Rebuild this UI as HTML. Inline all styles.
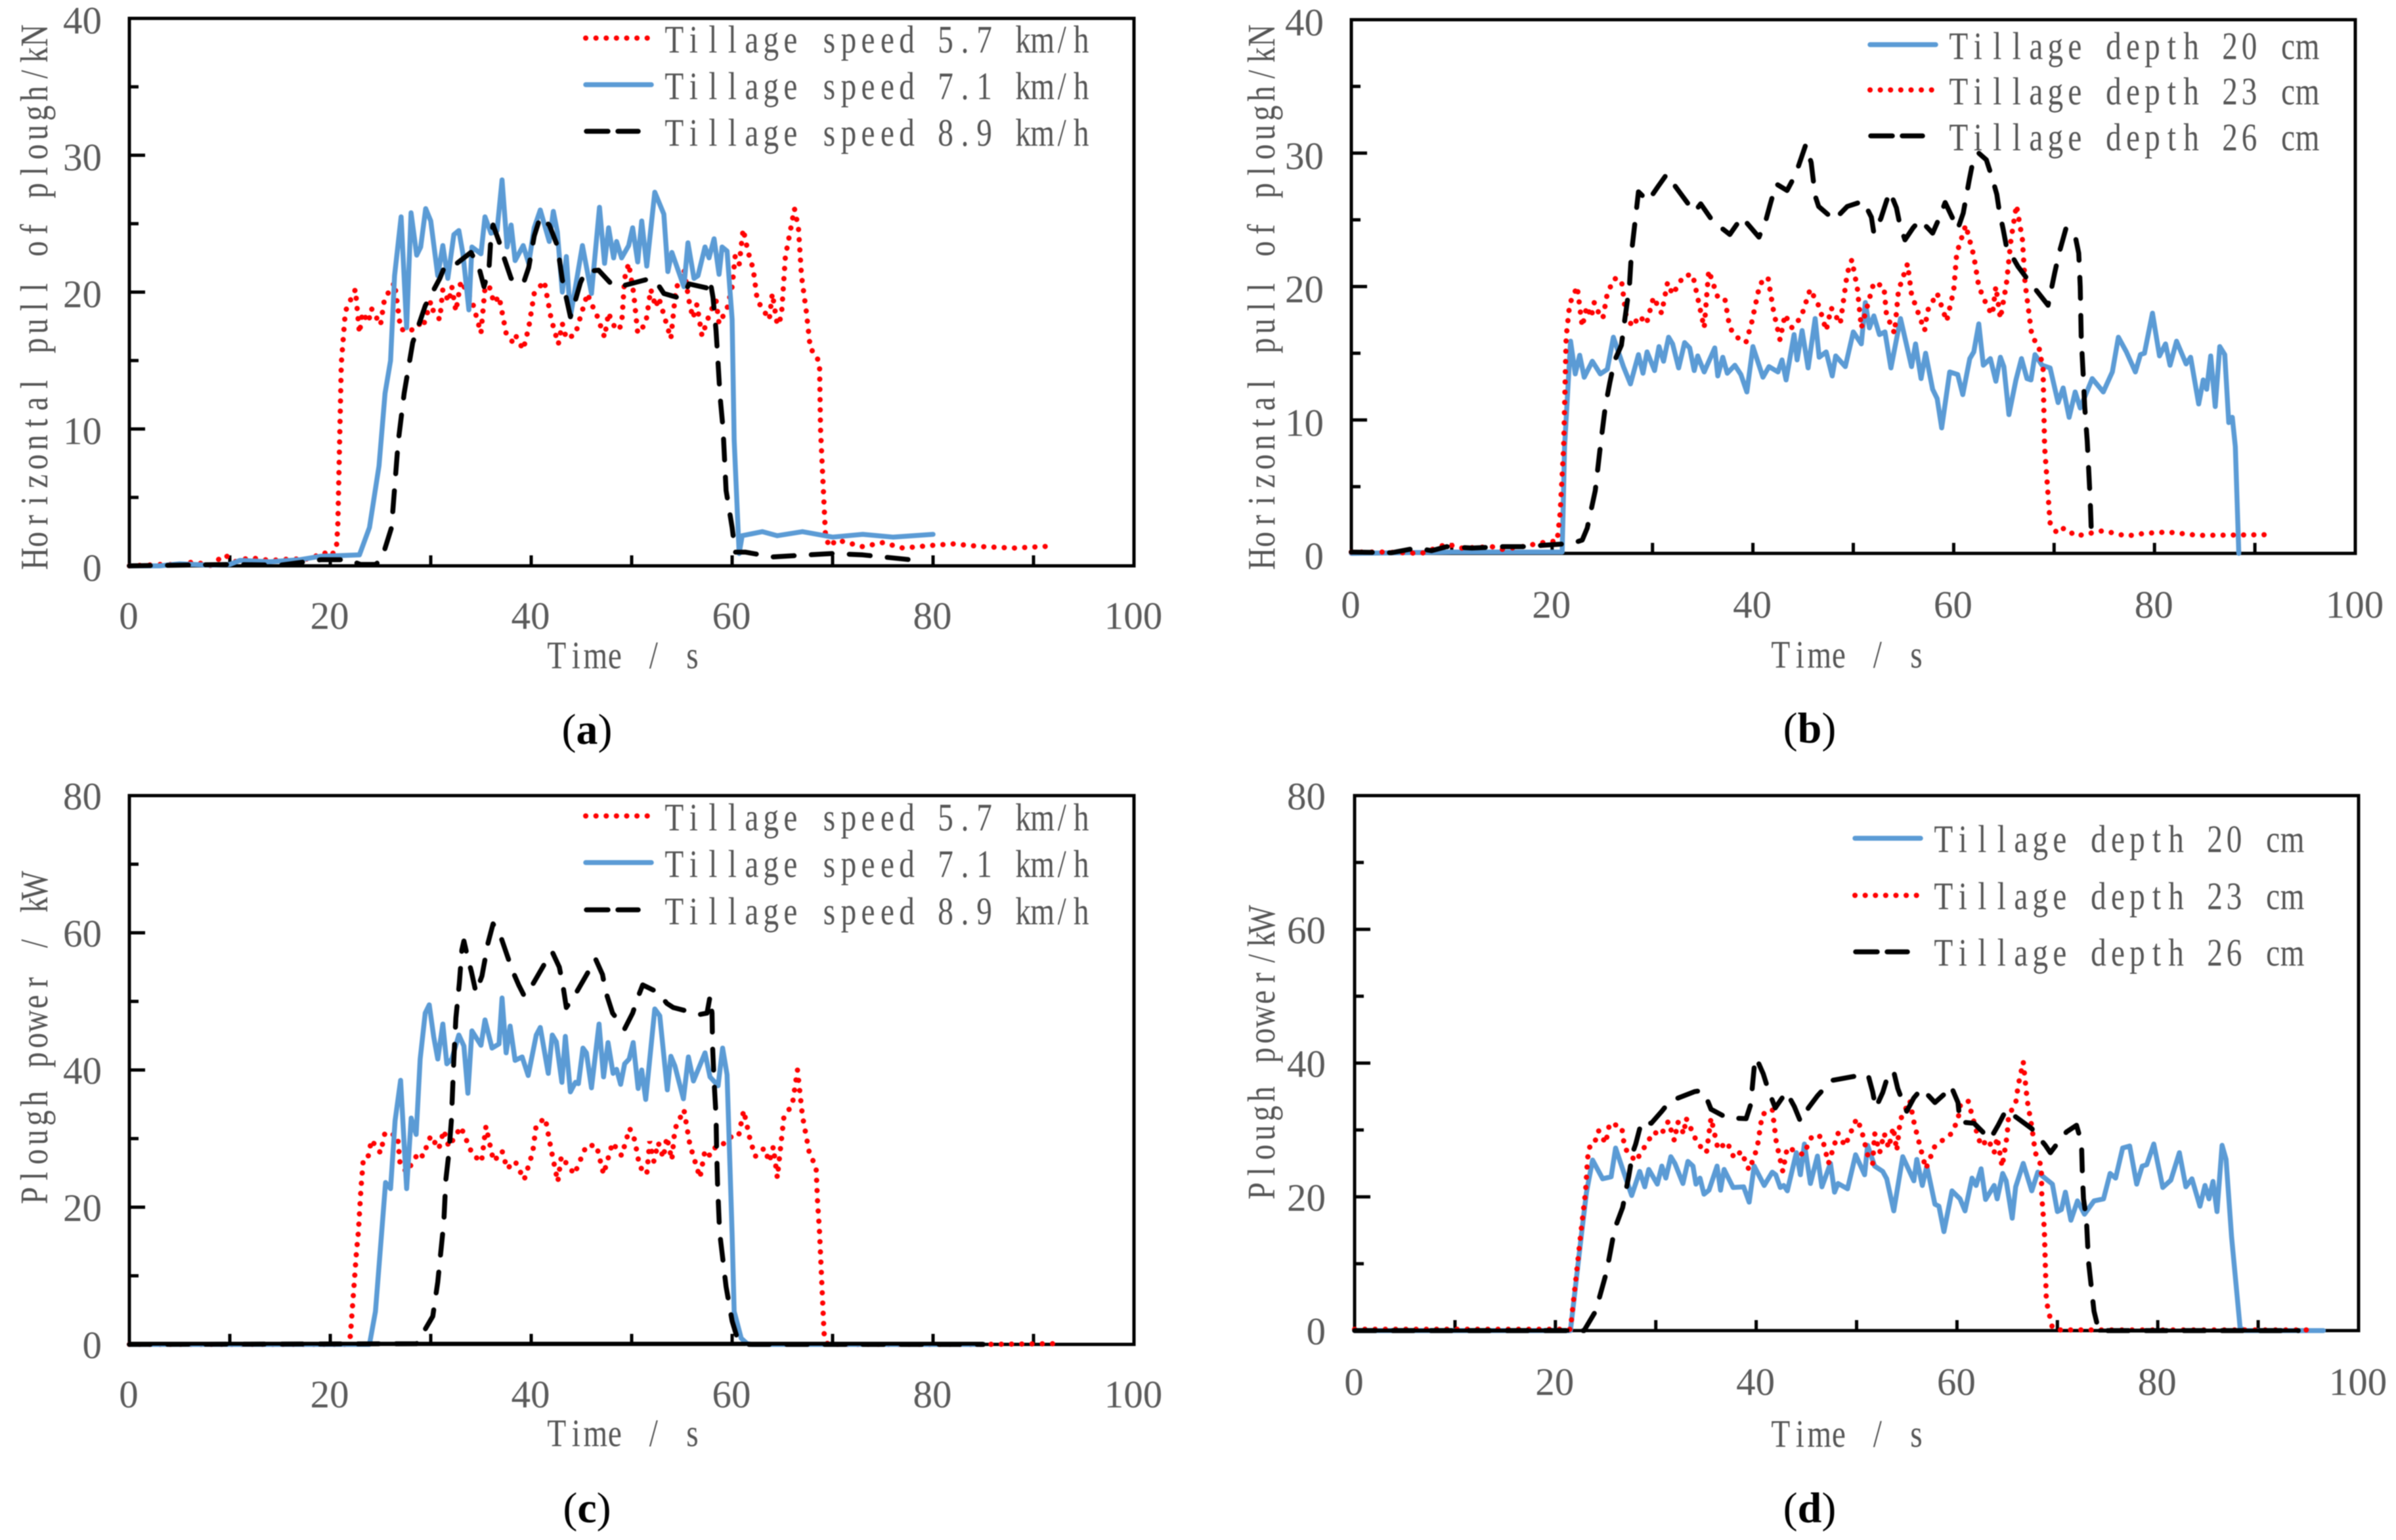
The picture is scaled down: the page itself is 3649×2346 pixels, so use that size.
<!DOCTYPE html>
<html lang="en">
<head>
<meta charset="utf-8">
<title>Plough pull and power versus time</title>
<style>
html,body{margin:0;padding:0;background:#fff;}
svg{display:block;filter:blur(0.9px);}
.m{font-family:"Liberation Serif",serif;font-size:59px;fill:#555;text-anchor:middle;}
.n{font-family:"Liberation Serif",serif;font-size:59px;fill:#5a5a5a;}
.cap{font-family:"Liberation Serif",serif;font-size:66px;fill:#000;text-anchor:middle;}
.cap .b{font-weight:bold;}
.frame{fill:none;stroke:#000;stroke-width:5;}
.tick{stroke:#000;stroke-width:5;}
.base{stroke:#000;stroke-width:6;}
.blue{fill:none;stroke:#5b9bd5;stroke-width:7.5;stroke-linejoin:round;stroke-linecap:round;}
.red{fill:none;stroke:#ff0000;stroke-width:8;stroke-linecap:round;stroke-dasharray:0.1 15.5;}
.black{fill:none;stroke:#000;stroke-width:7.5;stroke-linejoin:round;stroke-linecap:round;stroke-dasharray:32 26;}
.legdash{fill:none;stroke:#000;stroke-width:7.5;stroke-linecap:round;stroke-dasharray:33 15;}
</style>
</head>
<body>
<svg xmlns="http://www.w3.org/2000/svg" width="3649" height="2346" viewBox="0 0 3649 2346">
  <rect width="3649" height="2346" fill="#fff"/>

  <g id="panel-a">
    <rect class="frame" x="197" y="28" width="1530" height="834"/>
    <g id="ticks-a"></g>
    <path id="a-red" class="red"/>
    <path id="a-blue" class="blue"/>
    <path id="a-black" class="black"/>
    <text class="m" transform="translate(72,866) rotate(-90) scale(0.8,1)">Horizontal pull of plough/kN</text>
    <text class="m" transform="translate(833,1018) scale(0.8,1)">Time / s</text>
    <g>
      <line class="red" x1="892" y1="58" x2="990" y2="58"/>
      <text class="m" transform="translate(1012,80) scale(0.8,1)">Tillage speed 5.7 km/h</text>
      <line class="blue" x1="892" y1="129" x2="992" y2="129"/>
      <text class="m" transform="translate(1012,151) scale(0.8,1)">Tillage speed 7.1 km/h</text>
      <line class="legdash" x1="893" y1="200" x2="972" y2="200"/>
      <text class="m" transform="translate(1012,222) scale(0.8,1)">Tillage speed 8.9 km/h</text>
    </g>
    <text class="cap" x="894" y="1133">(<tspan class="b">a</tspan>)</text>
  </g>

  <g id="panel-b">
    <rect class="frame" x="2058" y="30" width="1529" height="813"/>
    <g id="ticks-b"></g>
    <path id="b-blue" class="blue"/>
    <path id="b-red" class="red"/>
    <path id="b-black" class="black"/>
    <text class="m" transform="translate(1941,866) rotate(-90) scale(0.8,1)">Horizontal pull of plough/kN</text>
    <text class="m" transform="translate(2697,1017) scale(0.8,1)">Time / s</text>
    <g>
      <line class="blue" x1="2848" y1="68" x2="2948" y2="68"/>
      <text class="m" transform="translate(2968,90) scale(0.8,1)">Tillage depth 20 cm</text>
      <line class="red" x1="2848" y1="137" x2="2948" y2="137"/>
      <text class="m" transform="translate(2968,159) scale(0.8,1)">Tillage depth 23 cm</text>
      <line class="legdash" x1="2849" y1="207" x2="2928" y2="207"/>
      <text class="m" transform="translate(2968,229) scale(0.8,1)">Tillage depth 26 cm</text>
    </g>
    <text class="cap" x="2756" y="1131">(<tspan class="b">b</tspan>)</text>
  </g>

  <g id="panel-c">
    <rect class="frame" x="197" y="1212" width="1530" height="836"/>
    <g id="ticks-c"></g>
    <path id="c-red" class="red"/>
    <path id="c-blue" class="blue"/>
    <path id="c-black" class="black"/>
    <line class="base" x1="197" y1="2047" x2="1497" y2="2047"/>
    <text class="m" transform="translate(72,1836) rotate(-90) scale(0.8,1)">Plough power / kW</text>
    <text class="m" transform="translate(833,2203) scale(0.8,1)">Time / s</text>
    <g>
      <line class="red" x1="892" y1="1243" x2="990" y2="1243"/>
      <text class="m" transform="translate(1012,1265) scale(0.8,1)">Tillage speed 5.7 km/h</text>
      <line class="blue" x1="892" y1="1314" x2="992" y2="1314"/>
      <text class="m" transform="translate(1012,1336) scale(0.8,1)">Tillage speed 7.1 km/h</text>
      <line class="legdash" x1="893" y1="1386" x2="972" y2="1386"/>
      <text class="m" transform="translate(1012,1408) scale(0.8,1)">Tillage speed 8.9 km/h</text>
    </g>
    <text class="cap" x="894" y="2319">(<tspan class="b">c</tspan>)</text>
  </g>

  <g id="panel-d">
    <rect class="frame" x="2063" y="1212" width="1529" height="815"/>
    <g id="ticks-d"></g>
    <path id="d-blue" class="blue"/>
    <path id="d-red" class="red"/>
    <path id="d-black" class="black"/>
    <line class="base" x1="2063" y1="2027" x2="2390" y2="2027"/>
    <line class="base" x1="3196" y1="2027" x2="3498" y2="2027"/>
    <text class="m" transform="translate(1941,1829) rotate(-90) scale(0.8,1)">Plough power/kW</text>
    <text class="m" transform="translate(2697,2204) scale(0.8,1)">Time / s</text>
    <g>
      <line class="blue" x1="2825" y1="1277" x2="2925" y2="1277"/>
      <text class="m" transform="translate(2945,1298) scale(0.8,1)">Tillage depth 20 cm</text>
      <line class="red" x1="2825" y1="1364" x2="2925" y2="1364"/>
      <text class="m" transform="translate(2945,1385) scale(0.8,1)">Tillage depth 23 cm</text>
      <line class="legdash" x1="2826" y1="1450" x2="2905" y2="1450"/>
      <text class="m" transform="translate(2945,1471) scale(0.8,1)">Tillage depth 26 cm</text>
    </g>
    <text class="cap" x="2756" y="2319">(<tspan class="b">d</tspan>)</text>
  </g>
</svg>

<script>
// Shared axis values
const xTickValues = [0,10,20,30,40,50,60,70,80,90,100];
const xTickLabels = [0,20,40,60,80,100];
const pullTickValues = [0,5,10,15,20,25,30,35,40];
const pullTickLabels = [0,10,20,30,40];
const powerTickValues = [0,10,20,30,40,50,60,70,80];
const powerTickLabels = [0,20,40,60,80];

// Each point is [time in s, value]
// Panel (a): horizontal pull, kN, by tillage speed
const pullSpeed57 = [[0,0],[3,.1],[5,.1],[6.5,.3],[8,0],[9.5,.8],[10.5,.3],[12,.6],[14,.4],[16,.5],[18,.5],[19.3,1],[20,.7],[20.6,1.2],[20.75,3],[20.95,9.7],[21.1,14.8],[21.5,18.6],[22,19.4],[22.5,20.2],[22.7,18.6],[22.9,17],[23.2,18.5],[23.8,17.8],[24.1,18.8],[25,17.6],[25.4,19.5],[26.4,20.7],[27,17.3],[27.9,17.1],[28.8,17.7],[29.2,17.4],[30,19.3],[30.3,18.5],[30.9,18],[31.2,20.2],[31.8,19.3],[32.1,20.4],[32.5,18.6],[33,20.8],[34.1,19.4],[35,17],[35.4,20.3],[35.8,20.5],[36.3,19.2],[36.8,19.7],[37.5,17],[38.1,16.4],[38.4,16.9],[39.2,15.8],[39.75,17.4],[40.3,19.9],[41.3,20.8],[42,18],[42.7,16.2],[43.1,17.7],[43.5,16.6],[44.4,16.9],[44.7,17.7],[45.6,19.9],[46,19.1],[46.4,18.6],[47.3,16.7],[47.7,18.5],[48.1,17.7],[48.6,17.2],[49,17.6],[49.3,21],[49.7,22.1],[50.2,19.9],[50.6,17],[51.4,17.7],[51.9,20.2],[52.4,18.9],[52.7,19.6],[53.9,16.6],[54.4,20.2],[55.2,21.7],[55.7,19.4],[56.1,18.1],[56.5,19.1],[57,16.8],[57.8,18.5],[58.4,19.4],[58.7,17.7],[59.5,18.8],[60,20.4],[60.3,22.6],[60.7,22],[61.1,24.6],[61.6,22.9],[62.1,21.7],[62.5,19.4],[63.7,18],[64,19.9],[64.5,17.6],[64.9,18.2],[65.3,22.6],[65.8,24.5],[66.2,26.1],[66.6,24.7],[66.9,21.2],[67.4,18.5],[67.8,15.8],[68.2,15.6],[68.7,14.8],[68.8,10],[69.3,2.1],[69.7,1.4],[70.4,1.9],[73,1.4],[75,1.7],[77,1.3],[80,1.5],[82,1.6],[85,1.4],[88,1.3],[92,1.45]];
const pullSpeed71 = [[0,0],[3,0],[5,.15],[8,.05],[10,.1],[11,.4],[14,.3],[17,.45],[19,.7],[21,.75],[22.9,.8],[23.9,2.8],[24.85,7.3],[25.45,12.6],[26,15],[26.4,21.2],[27.05,25.5],[27.6,17.4],[28.04,25.8],[28.6,22.7],[29,23.3],[29.5,26.1],[30,25.2],[30.7,21.2],[31.2,23.4],[31.7,21],[32.3,24.2],[32.8,24.5],[33.2,22.8],[33.8,18.7],[34.1,23.3],[35,22.8],[35.4,25.5],[36,24.3],[36.6,24.5],[37.1,28.2],[37.6,23.3],[38,24.9],[38.4,22.3],[39.2,23.4],[39.75,22.1],[40.3,24.7],[40.9,26],[41.8,23.7],[42.2,25.9],[42.6,24.4],[43.1,20],[43.5,22.6],[43.9,18.2],[45.1,23.4],[46,19.9],[46.8,26.2],[47.3,22.1],[47.7,24.7],[48.2,22.5],[48.5,23.7],[49,22.5],[49.7,23.4],[50.1,24.7],[50.6,22.2],[51,25.2],[51.5,21.9],[52.3,27.3],[53.2,25.7],[53.6,21.5],[54,22.9],[55.2,20.4],[55.6,23.6],[56.2,21],[56.6,21.2],[57.3,23.3],[57.7,22.5],[58.2,23.9],[58.7,21.3],[59,23.3],[59.5,23],[60,18],[60.2,9.2],[60.7,.9],[61,2.2],[63,2.5],[64.5,2.2],[67,2.5],[70,2.1],[73,2.3],[76,2.1],[80,2.3]];
const pullSpeed89 = [[0,0],[10,.1],[15,.05],[19.1,.45],[21.8,.45],[23,.1],[24.5,.1],[25.1,.45],[26.1,2.8],[26.75,9],[27.35,12.6],[28.2,16.3],[29.45,19],[30.9,21],[31.4,21.9],[32.6,22.1],[34,22.9],[34.8,21.8],[35.3,20.4],[35.8,21.7],[36,24.1],[36.2,24.9],[36.8,23.7],[37.3,22.5],[38,21],[39.2,20.6],[39.75,21.8],[40.3,24.1],[40.9,25.5],[41.8,24.9],[42.6,23.4],[43.1,20.9],[43.9,18.2],[44.4,19.4],[44.9,20.7],[45.4,21.5],[46.7,21.6],[48.1,20.5],[48.8,20.4],[51.4,20.9],[52.4,20.8],[53.2,19.9],[54.6,19.6],[55.2,19.8],[55.7,20.6],[57.5,20.3],[57.8,20.9],[58.1,19.6],[58.4,17.2],[58.6,14.8],[58.8,12.4],[59.1,10],[59.4,5.5],[60,2.8],[60.3,1],[61.3,1],[64,.65],[70,.9],[73,.8],[77.7,.45]];

// Panel (b): horizontal pull, kN, by tillage depth
const pullDepth20 = [[0,0],[5,.05],[10,.1],[15,.1],[20,.1],[21,.1],[21.24,8],[21.84,15.9],[22.3,13.45],[22.75,14.85],[23.2,13.2],[24,14.4],[24.8,13.45],[25.5,13.8],[26.1,16.2],[27.1,14],[27.8,12.7],[28.6,14.9],[29.05,13.5],[29.46,15.1],[30.2,13.7],[30.65,15.5],[31.1,14.4],[31.6,16.2],[32,15.7],[32.6,13.9],[33.2,15.8],[33.7,15.4],[34.15,13.7],[34.5,14.8],[35.15,13.6],[36.2,15.4],[36.5,13.3],[37,14.7],[37.45,13.5],[38.2,14.1],[38.8,13.4],[39.4,12.1],[40,15.5],[41,13.2],[41.6,14],[42.5,13.6],[42.9,14.5],[43.3,13],[44.1,16.4],[44.4,14.5],[44.9,16.7],[45.5,13.9],[46.2,17.6],[46.6,14.7],[47.3,15.1],[47.9,13.3],[48.25,14.8],[49.2,14],[50,16.6],[50.8,15.7],[51.2,18.8],[51.6,16.9],[52.05,17.8],[52.6,16.4],[53.15,16.6],[53.75,13.9],[54.7,17.6],[55.8,14],[56.2,15.7],[56.75,13.1],[57.2,15],[57.9,12.3],[58.35,11.6],[58.8,9.4],[59.6,13.6],[60.4,13.4],[60.9,11.9],[61.6,14.6],[62,15.1],[62.5,17.2],[62.95,14.1],[63.65,14.6],[64.2,12.9],[64.65,14.7],[65,14],[65.5,10.4],[66.2,13],[66.75,14.6],[67.3,13.1],[67.7,13],[68.1,14.9],[68.8,14.1],[69.6,13.9],[70.4,11.3],[70.9,12.4],[71.5,10.2],[72.1,12.1],[72.6,10.9],[73.8,13.1],[74.9,12.1],[75.8,13.6],[76.4,16.2],[77.2,15.1],[78.1,13.6],[78.6,14.9],[79,15],[79.8,18],[80.5,14.8],[81.1,15.7],[81.55,14.1],[82.2,15.9],[83.15,14.2],[83.6,14.7],[84.4,11.2],[84.85,13],[85.2,12.3],[85.6,14.8],[86.05,11],[86.5,15.5],[87,14.9],[87.4,9.8],[87.75,10.2],[88.05,8],[88.4,0]];
const pullDepth23 = [[0,.1],[3,.1],[7,0],[9.5,.7],[11,.4],[14,.5],[15,.3],[17,.5],[19,.8],[20,.9],[20.5,.9],[20.8,3],[21.15,8],[21.4,16.2],[21.75,18.7],[22.5,20],[23,17],[23.45,18.5],[23.9,17.7],[24.2,18.8],[24.6,18.1],[25.05,17.6],[25.5,19.5],[26.2,20.6],[26.9,20.5],[27.35,17.9],[28,17],[28.7,17.8],[29.4,17.2],[30.1,19.2],[30.9,18],[31.5,20.3],[32,19.4],[33.1,20.8],[34,20.9],[35.15,16.9],[35.6,21.2],[36.5,19.2],[37.2,19.1],[37.7,16.9],[38.4,16.2],[39.3,15.8],[39.85,17.2],[40.7,20.2],[41.5,20.7],[42.05,18.2],[42.7,16],[43.2,17.9],[43.9,16.9],[44.8,17.7],[45.7,19.8],[46.6,18.5],[47.3,16.7],[47.8,18.4],[48.7,17.2],[49.4,21],[49.85,22],[50.4,19.9],[50.8,16.9],[52.05,20.3],[53.05,20],[53.3,17.9],[54.1,16.5],[54.5,19.7],[55.4,21.7],[55.8,19.4],[57.1,16.7],[57.4,18.2],[58.35,19.5],[59.3,17.4],[60,19.7],[60.3,22.5],[61.2,24.6],[62,22.3],[62.5,20],[63.4,18.4],[63.85,17.9],[64.2,20],[64.65,17.6],[65.25,20.2],[65.7,23.5],[66.25,26.1],[66.85,23.5],[67.1,20.3],[67.8,16.2],[68.45,15.6],[68.9,13.8],[69.05,8],[69.6,2.3],[70.3,1.5],[71,1.9],[72.2,1.3],[74.9,1.7],[77.2,1.3],[79,1.5],[81.3,1.6],[84.4,1.35],[91.6,1.4]];
const pullDepth26 = [[0,.1],[4,.05],[6.5,.4],[8,.2],[9.5,.5],[12,.4],[15,.5],[17,.5],[19,.6],[21,.7],[22,.75],[23,1],[23.5,1.9],[24.3,4.7],[24.8,8],[25.3,11],[25.75,12.8],[26.2,14.4],[26.9,15.6],[27.25,17.6],[27.7,20],[27.9,22.5],[28.3,25.1],[28.6,27.1],[29.55,26.4],[30.55,27.5],[31.4,28.4],[33.55,26.2],[34.2,25.6],[34.8,26.2],[36,24.9],[37.7,23.9],[38.9,25.2],[40.6,23.7],[41.3,25],[41.7,26.1],[42.3,27.7],[43.4,27.2],[44.25,28.4],[45.25,30.6],[45.8,29.3],[46.2,26.8],[46.55,26],[48.1,25],[49.4,26],[51,26.4],[51.8,25.2],[52.05,24],[52.75,25.1],[53.3,26.4],[53.65,27.1],[54.3,25.9],[54.65,24.6],[55.15,23.5],[55.95,24.4],[56.65,25],[57.9,24],[58.6,25.2],[59.15,26.3],[59.9,25.1],[60.4,24.3],[60.95,25.5],[61.55,28],[62,29.7],[62.5,30],[63.25,29.5],[63.85,28.1],[64.3,26.9],[64.55,25.6],[64.9,24.4],[65.25,23],[66.4,21.5],[67.3,20.6],[69.4,18.6],[70.05,21],[70.5,22.5],[71.2,24.4],[72.1,23.8],[72.45,22.5],[72.6,20],[72.7,16.2],[72.9,13.4],[73.05,11],[73.3,8.4],[73.6,4],[73.75,.8]];

// Panel (c): plough power, kW, by tillage speed
const powerSpeed57 = [[0,0],[21.5,0],[22,1.2],[22.6,13.4],[22.8,16.4],[23.05,22.7],[23.3,27.2],[23.8,27.5],[24.1,29.8],[25,27.9],[25.45,30.9],[26.7,30.4],[26.95,26.3],[27.6,25.1],[28.8,28],[29.2,27.4],[30,30.4],[30.8,28.5],[31.3,31.2],[31.8,28.8],[33,31.7],[34.15,27.7],[35.05,26.6],[35.5,31.8],[36.1,27.7],[36.3,26.7],[37.1,28.2],[37.6,25.6],[38.4,26.7],[39.3,24],[40.15,28],[40.5,32],[41.4,33],[42,28.3],[42.65,23.7],[43,27.4],[44.3,24.8],[45.5,29],[46.5,29],[47.2,24.8],[48.1,29.4],[49,27.5],[49.8,31.5],[50.3,29.8],[50.8,25.9],[51.5,24.8],[51.8,29.6],[52.2,26.7],[52.65,29.4],[53.15,27.2],[53.5,30.2],[54,26.9],[54.3,31.4],[55.2,34.2],[55.8,29.1],[56.8,24.3],[57.3,28.3],[57.8,27.5],[58.5,29.1],[59.3,29.3],[60,30.4],[60.65,30.4],[61.15,34.1],[61.8,29.8],[62.3,27.4],[63.2,28.6],[63.7,26.6],[64.1,28.8],[64.5,24.3],[65.15,33.1],[66,35],[66.5,40],[67,33.3],[67.7,27.8],[68.35,25.9],[68.5,20.8],[68.7,16.4],[69.15,1.6],[69.5,.1],[70,0],[85,0],[92,.1]];
const powerSpeed71 = [[0,0],[23.9,0],[24.5,4.8],[25.1,16],[25.5,23.6],[26,22.7],[26.45,32.6],[27,38.5],[27.6,22.7],[28.05,33],[28.55,30.6],[28.95,41.6],[29.45,48.3],[29.85,49.5],[30.3,44.8],[30.7,41.6],[31.2,46.7],[31.6,40.9],[32.1,41.6],[32.8,45.1],[33.3,43.5],[33.7,36.6],[34.1,45.7],[35,43.6],[35.4,47.3],[36.1,43.2],[36.8,43.8],[37.1,50.5],[37.5,42.5],[37.9,46.4],[38.4,41.4],[39.1,41.9],[39.7,39.2],[40.5,45.1],[40.9,46.2],[41.7,39.5],[42.1,45.1],[42.5,44.1],[43.05,38.2],[43.4,44.9],[43.9,36.8],[44.4,38.2],[44.7,38],[45.15,43.2],[45.5,42.5],[46,37.4],[46.75,46.7],[47.2,39],[47.65,44],[48.15,39.5],[48.5,40.1],[48.9,37.9],[49.3,40.9],[49.75,41.6],[50.15,44],[50.65,37.3],[51,40],[51.4,35.7],[52.3,48.9],[52.8,47.9],[53.55,37.1],[53.9,42],[54.3,40.6],[55.15,35.8],[55.65,41.9],[56.15,38.4],[57.3,42.5],[57.8,39],[58.6,37.7],[59.05,43.2],[59.5,39.3],[60,16],[60.2,4.8],[60.9,.9],[61.5,.1],[62,0],[85,0]];
const powerSpeed89 = [[0,0],[28.6,.1],[30.2,4.1],[30.7,9.1],[31.3,17.8],[31.5,24],[31.8,27.8],[32.05,32.6],[32.3,41.6],[32.5,47.6],[32.85,52.7],[33.1,57.5],[33.3,58.8],[33.6,56.9],[34.05,54.3],[34.5,51.3],[35.1,53.7],[35.7,58.5],[36.2,61.3],[37,59.3],[38.1,54.6],[38.75,52.4],[39.3,50.8],[40,52.1],[41.3,55.4],[42.1,57.2],[42.8,55],[43.15,52.4],[43.5,49.1],[44.3,50.8],[45.8,54.6],[46.4,56.2],[47.1,53.9],[47.4,51.5],[48.1,48.3],[49.3,46],[50.1,48.3],[50.65,50.7],[51.1,52.4],[52.65,51.3],[53.5,49.7],[54.15,49.1],[56.8,48.1],[57.5,48.3],[57.8,50.7],[58,48.3],[58.05,43.5],[58.2,38.4],[58.4,33.3],[58.45,28.8],[58.55,23.4],[58.75,16.4],[59.4,8.4],[60,3.4],[60.6,.5],[61.7,0],[85,0]];

// Panel (d): plough power, kW, by tillage depth
const powerDepth20 = [[0,0],[21.5,0],[22.6,14.5],[23.1,20.7],[23.7,25.5],[24.7,22.7],[25.55,23],[26,27.3],[26.8,23.7],[27.6,20.2],[28.4,23.8],[28.9,21.5],[29.3,24.1],[30.15,21.9],[30.6,24.6],[31,22.8],[31.5,26],[31.9,25],[32.7,22],[33.2,25.3],[33.7,24.6],[34,21.9],[34.4,22.8],[34.8,20.4],[35.3,21],[36.1,24.6],[36.45,21],[36.8,24.1],[37.7,21.4],[38.75,21.5],[39.3,19.2],[39.8,24.6],[40.8,21.7],[41.6,23.7],[41.95,23.3],[42.4,21.4],[42.75,21.7],[43.1,20.9],[44,26.6],[44.4,23.3],[44.8,27.9],[45.4,22],[46.1,26.1],[46.55,21.5],[47.4,25],[47.8,20.7],[48.15,22],[49.1,21.2],[49.9,26.3],[50.8,23.3],[51.1,27.7],[51.8,24.6],[52.6,23.8],[53,22.7],[53.7,17.9],[54.6,26],[55.7,22.4],[56,25.6],[56.55,21.7],[57,24.6],[57.8,18.9],[58.2,18.6],[58.7,14.8],[59.5,20.9],[60.3,19.7],[60.8,17.9],[61.5,22.8],[61.9,21.7],[62.4,24.2],[62.85,19.6],[63.7,21.7],[64,19.7],[64.55,23.5],[64.9,22.4],[65.5,16.8],[65.85,21.5],[66.6,25],[67.45,20.9],[68.05,23.7],[68.6,23],[69.5,21.9],[70,17.8],[70.4,18.1],[70.8,20.7],[71.35,16.5],[72,19.4],[72.7,17.4],[73.65,19.4],[74.6,19.7],[75.25,23.5],[75.8,22.8],[76.5,27.3],[77.2,27.6],[77.9,21.9],[78.45,24.6],[78.9,24.8],[79.6,27.9],[80.5,21.4],[81.3,22.5],[82.15,26.6],[82.8,21.5],[83.4,22.7],[84.2,18.6],[84.7,21.7],[85.1,19.7],[85.5,22.3],[85.9,17.8],[86.4,27.7],[86.8,25.6],[87.35,14],[88.2,.4],[88.7,0],[96.5,0]];
const powerDepth23 = [[0,.2],[21.5,.2],[22.6,15.5],[23,20.7],[23.2,25.6],[23.35,27.4],[23.8,27.6],[24.3,29.9],[25,28],[25.4,31],[26.6,30.5],[26.9,27.3],[28,25.3],[29.8,29.7],[30.5,29.2],[31.25,31.3],[31.85,28.4],[32.2,31.2],[32.8,29.4],[33,31.8],[33.5,30.2],[34.15,28],[35.05,26.6],[35.5,31.8],[36.2,27.1],[37.1,28.2],[37.8,25.8],[38.5,26.8],[39.3,24],[40.1,27.3],[40.6,32.3],[41.6,33.1],[42,28.2],[42.65,23.8],[43.1,27.4],[44.7,26.3],[45.6,29.2],[46.55,29],[47.2,25],[48.15,29.5],[48.85,27.6],[50,31.7],[50.45,30.2],[51.15,26],[51.6,25],[51.8,29.5],[52.3,26.6],[52.75,29.5],[53.2,27.3],[53.65,30.4],[54,26.9],[54.35,31.5],[55.3,34.4],[55.75,30.9],[56.9,24.2],[57.8,27.6],[59.4,29.4],[60.1,31.5],[60.3,33.6],[61.1,34.4],[62,29.5],[62.4,27.6],[63.1,28.6],[63.7,26.6],[64,28.9],[64.5,24.5],[65,29.2],[65.15,32.2],[65.85,34],[66.1,36.7],[66.6,40.2],[67,34.4],[67.45,30.5],[67.8,26.6],[68.4,24.6],[68.45,20],[68.7,15.2],[68.9,4.4],[69.5,.4],[70,.1],[95,.1]];
const powerDepth26 = [[0,0],[22.85,0],[24,2.9],[25.1,8.8],[25.9,15.2],[26.7,18.4],[27.3,23],[27.7,26.6],[28,27.9],[28.5,30.8],[28.6,31.3],[29.55,31],[30.6,32.8],[31.4,34.3],[33.9,35.75],[34.6,35.9],[35.1,34.6],[35.5,33.1],[37.1,31.8],[39,31.7],[39.45,33.8],[39.8,39.3],[40,40.8],[40.7,38.4],[41.25,35.8],[41.9,33.3],[43,35.7],[43.8,33.5],[44.4,31.3],[45.2,33.3],[46.1,35.1],[47.5,37.4],[50.45,38.2],[51.15,38.2],[51.6,35.7],[51.9,33.3],[52.6,35.6],[53.2,38.5],[53.7,38.7],[54.1,36.2],[54.7,33.8],[55,32.8],[55.7,34.8],[56.5,36.2],[57.8,34.1],[58.7,35.3],[59.4,36.6],[60.1,34.1],[60.3,31.2],[61.7,31],[63.3,28.6],[64.1,30.7],[64.9,33],[67.45,30.2],[68.8,27.7],[69.3,26.6],[70.2,28.4],[70.9,29.7],[71.9,30.7],[72.4,28.1],[72.5,23],[72.6,19.7],[72.9,16.5],[73.1,10.3],[73.65,2.9],[74.1,.1],[74.5,0],[94,0]];

const panels = [
  {id:'a', x0:197, x1:1727, y0:862, y1:28, yMax:40, yTicks:pullTickValues, yLabels:pullTickLabels, major:10, xLabelBase:958, yLabelRight:155, yLabelDy:23,
   lines:{red:pullSpeed57, blue:pullSpeed71, black:pullSpeed89}},
  {id:'b', x0:2058, x1:3587, y0:843, y1:30, yMax:40, yTicks:pullTickValues, yLabels:pullTickLabels, major:10, xLabelBase:941, yLabelRight:2016, yLabelDy:24,
   lines:{blue:pullDepth20, red:pullDepth23, black:pullDepth26}},
  {id:'c', x0:197, x1:1727, y0:2048, y1:1212, yMax:80, yTicks:powerTickValues, yLabels:powerTickLabels, major:20, xLabelBase:2144, yLabelRight:155, yLabelDy:21,
   lines:{red:powerSpeed57, blue:powerSpeed71, black:powerSpeed89}},
  {id:'d', x0:2063, x1:3592, y0:2027, y1:1212, yMax:80, yTicks:powerTickValues, yLabels:powerTickLabels, major:20, xLabelBase:2125, yLabelRight:2019, yLabelDy:21,
   lines:{blue:powerDepth20, red:powerDepth23, black:powerDepth26}}
];

const SVG_NS = 'http://www.w3.org/2000/svg';
const CHAR_STEP = 36.9;

function xAxis(panel){
  return function(t){ return panel.x0 + (t / 100) * (panel.x1 - panel.x0); };
}
function yAxis(panel){
  return function(v){ return panel.y0 - (v / panel.yMax) * (panel.y0 - panel.y1); };
}

function drawAxes(panel){
  const host = document.getElementById('ticks-' + panel.id);
  const xf = xAxis(panel);
  const yf = yAxis(panel);
  xTickValues.forEach(function(t){
    const el = document.createElementNS(SVG_NS, 'line');
    
    
    el.setAttribute('class', 'tick');
    el.setAttribute('x1', xf(t));
    el.setAttribute('x2', xf(t));
    el.setAttribute('y1', panel.y0);
    el.setAttribute('y2', panel.y0 - 16);
    host.appendChild(el);
  });
  panel.yTicks.forEach(function(v){
    const el = document.createElementNS(SVG_NS, 'line');
    
    
    el.setAttribute('class', 'tick');
    el.setAttribute('x1', panel.x0);
    el.setAttribute('x2', panel.x0 + (v % panel.major === 0 ? 24 : 14));
    el.setAttribute('y1', yf(v));
    el.setAttribute('y2', yf(v));
    host.appendChild(el);
  });
  xTickLabels.forEach(function(t){
    const el = document.createElementNS(SVG_NS, 'text');
    
    
    el.setAttribute('class', 'n');
    el.setAttribute('text-anchor', 'middle');
    el.setAttribute('x', xf(t) - 1);
    el.setAttribute('y', panel.xLabelBase);
    el.textContent = String(t);
    host.appendChild(el);
  });
  panel.yLabels.forEach(function(v){
    const el = document.createElementNS(SVG_NS, 'text');
    
    
    el.setAttribute('class', 'n');
    el.setAttribute('text-anchor', 'end');
    el.setAttribute('x', panel.yLabelRight);
    el.setAttribute('y', yf(v) + panel.yLabelDy);
    el.textContent = String(v);
    host.appendChild(el);
  });
}

function drawLines(panel){
  const xf = xAxis(panel);
  const yf = yAxis(panel);
  Object.keys(panel.lines).forEach(function(colour){
    const points = panel.lines[colour];
    const d = points.map(function(p, i){
      return (i ? 'L' : 'M') + xf(p[0]).toFixed(1) + ' ' + yf(p[1]).toFixed(1);
    }).join('');
    document.getElementById(panel.id + '-' + colour).setAttribute('d', d);
  });
}

// Half-width character cells for the legend and axis titles
document.querySelectorAll('text.m').forEach(function(el){
  const cells = Array.from(el.textContent).map(function(c, i){
    return (i + 0.5) * CHAR_STEP;
  });
  el.setAttribute('x', cells.join(' '));
});

panels.forEach(function(panel){
  drawAxes(panel);
  drawLines(panel);
});
</script>
</body>
</html>
